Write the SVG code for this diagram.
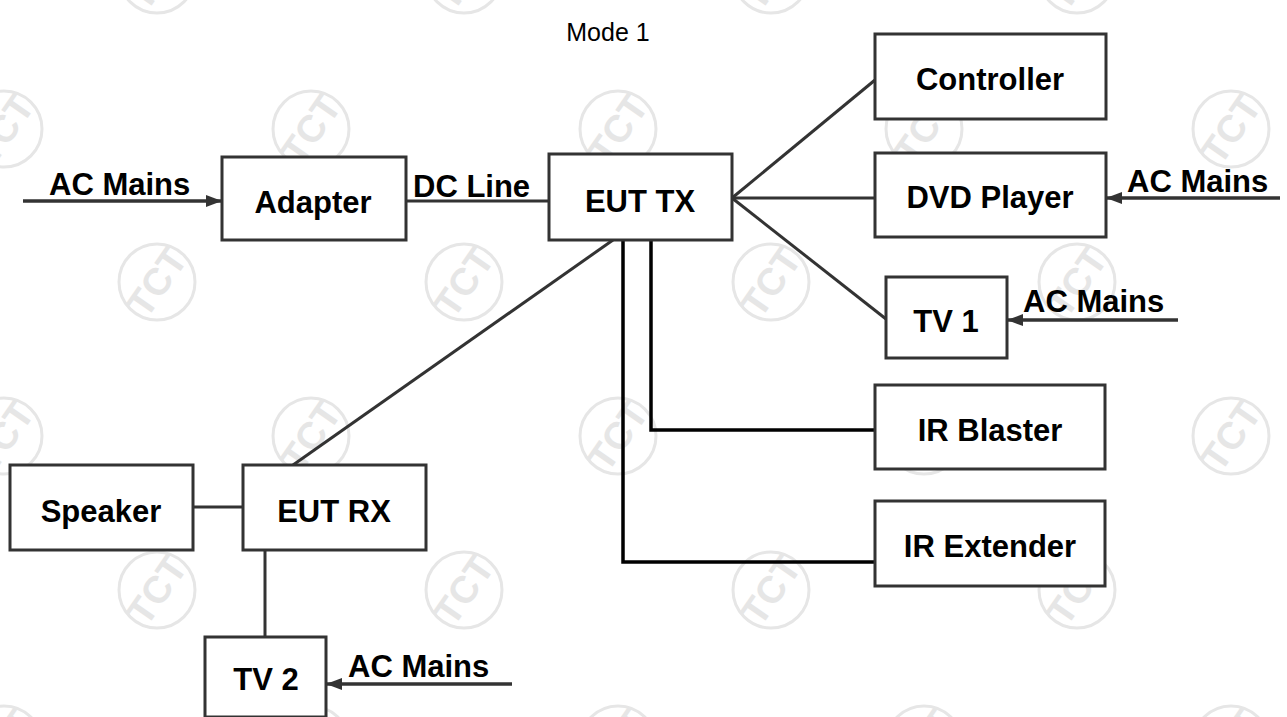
<svg xmlns="http://www.w3.org/2000/svg" width="1287" height="717" viewBox="0 0 1287 717">
  <defs>
    <style>
      .box { fill: #ffffff; stroke: #333333; stroke-width: 3; }
      .lbl { font-family: "Liberation Sans", Arial, sans-serif; font-weight: bold; font-size: 31px; fill: #000000; text-anchor: middle; }
      .cap { font-family: "Liberation Sans", Arial, sans-serif; font-weight: bold; font-size: 31px; fill: #000000; }
      .wire { fill: none; stroke: #333333; stroke-width: 3; }
      .ir { fill: none; stroke: #000000; stroke-width: 3.5; }
      .feed { fill: none; stroke: #333333; stroke-width: 3.5; marker-end: url(#arrow); }
    </style>
    <marker id="arrow" viewBox="0 0 16 12" refX="16" refY="6" markerWidth="16" markerHeight="12" markerUnits="userSpaceOnUse" orient="auto">
      <path d="M0,0 L16,6 L0,12 Z" fill="#333333"/>
    </marker>
    <!-- faint round stamp repeated over the sheet -->
    <g id="tct">
      <circle cx="0" cy="0" r="38" fill="none" stroke="#e6e6e6" stroke-width="3"/>
      <text x="0" y="13" transform="rotate(-55)" font-family="Liberation Sans, Arial, sans-serif" font-weight="bold" font-size="38" fill="#e6e6e6" text-anchor="middle">TCT</text>
    </g>
  </defs>

  <rect width="1287" height="717" fill="#ffffff"/>

  <g id="stamps">
    <use href="#tct" x="157" y="-25"/>
    <use href="#tct" x="464" y="-25"/>
    <use href="#tct" x="771" y="-25"/>
    <use href="#tct" x="1077" y="-25"/>
    <use href="#tct" x="4" y="129"/>
    <use href="#tct" x="311" y="129"/>
    <use href="#tct" x="618" y="129"/>
    <use href="#tct" x="924" y="129"/>
    <use href="#tct" x="1231" y="129"/>
    <use href="#tct" x="157" y="282"/>
    <use href="#tct" x="464" y="282"/>
    <use href="#tct" x="771" y="282"/>
    <use href="#tct" x="1077" y="282"/>
    <use href="#tct" x="4" y="436"/>
    <use href="#tct" x="311" y="436"/>
    <use href="#tct" x="618" y="436"/>
    <use href="#tct" x="924" y="436"/>
    <use href="#tct" x="1231" y="436"/>
    <use href="#tct" x="157" y="590"/>
    <use href="#tct" x="464" y="590"/>
    <use href="#tct" x="771" y="590"/>
    <use href="#tct" x="1077" y="590"/>
    <use href="#tct" x="4" y="744"/>
    <use href="#tct" x="311" y="744"/>
    <use href="#tct" x="618" y="744"/>
    <use href="#tct" x="924" y="744"/>
    <use href="#tct" x="1231" y="744"/>
  </g>

  <text x="608" y="41" font-family="Liberation Sans, Arial, sans-serif" font-size="25" text-anchor="middle" fill="#000000">Mode 1</text>

  <!-- connectors -->
  <g id="connectors">
    <line class="feed" x1="23" y1="201" x2="222" y2="201"/>
    <text class="cap" x="49" y="195">AC Mains</text>
    <line class="wire" x1="406" y1="201" x2="549" y2="201"/>
    <text class="cap" x="413" y="197">DC Line</text>

    <line class="wire" x1="732" y1="198" x2="875" y2="80"/>
    <line class="wire" x1="732" y1="198" x2="875" y2="198"/>
    <line class="wire" x1="732" y1="198" x2="886" y2="319"/>
    <polyline class="ir" points="651,240 651,430 875,430"/>
    <polyline class="ir" points="623,240 623,562 875,562"/>
    <line class="wire" x1="613" y1="240" x2="293" y2="465"/>

    <line class="wire" x1="193" y1="507" x2="243" y2="507"/>
    <line class="wire" x1="265" y1="550" x2="265" y2="637"/>

    <line class="feed" x1="1280" y1="198" x2="1106" y2="198"/>
    <text class="cap" x="1127" y="192">AC Mains</text>
    <line class="feed" x1="1178" y1="320" x2="1007" y2="320"/>
    <text class="cap" x="1023" y="312">AC Mains</text>
    <line class="feed" x1="512" y1="684" x2="326" y2="684"/>
    <text class="cap" x="348" y="677">AC Mains</text>
  </g>

  <!-- nodes -->
  <g id="adapter">
    <rect class="box" x="222" y="157" width="184" height="83"/>
    <text class="lbl" x="313" y="213">Adapter</text>
  </g>
  <g id="eut-tx">
    <rect class="box" x="549" y="154" width="183" height="86"/>
    <text class="lbl" x="640" y="212">EUT TX</text>
  </g>
  <g id="controller">
    <rect class="box" x="875" y="34" width="231" height="85"/>
    <text class="lbl" x="990" y="90">Controller</text>
  </g>
  <g id="dvd-player">
    <rect class="box" x="875" y="153" width="231" height="84"/>
    <text class="lbl" x="990" y="208">DVD Player</text>
  </g>
  <g id="tv1">
    <rect class="box" x="886" y="277" width="121" height="81"/>
    <text class="lbl" x="946" y="332">TV 1</text>
  </g>
  <g id="ir-blaster">
    <rect class="box" x="875" y="385" width="230" height="84"/>
    <text class="lbl" x="990" y="441">IR Blaster</text>
  </g>
  <g id="ir-extender">
    <rect class="box" x="875" y="501" width="230" height="85"/>
    <text class="lbl" x="990" y="557">IR Extender</text>
  </g>
  <g id="speaker">
    <rect class="box" x="10" y="465" width="183" height="85"/>
    <text class="lbl" x="101" y="522">Speaker</text>
  </g>
  <g id="eut-rx">
    <rect class="box" x="243" y="465" width="183" height="85"/>
    <text class="lbl" x="334" y="522">EUT RX</text>
  </g>
  <g id="tv2">
    <rect class="box" x="205" y="637" width="121" height="80"/>
    <text class="lbl" x="266" y="690">TV 2</text>
  </g>
</svg>
